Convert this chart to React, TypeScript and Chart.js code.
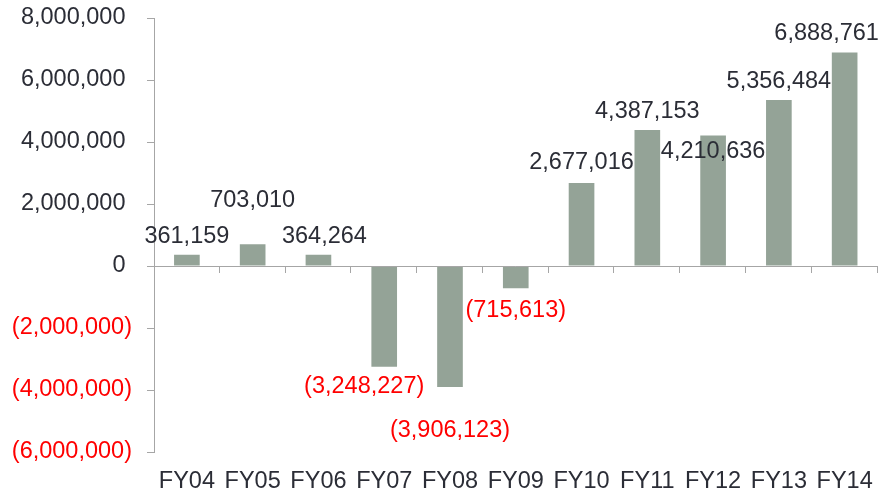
import React, { useEffect, useRef } from "react";
import { Chart, registerables } from "chart.js";

Chart.register(...registerables);

const categories = ["FY04", "FY05", "FY06", "FY07", "FY08", "FY09", "FY10", "FY11", "FY12", "FY13", "FY14"];
const values = [361159, 703010, 364264, -3248227, -3906123, -715613, 2677016, 4387153, 4210636, 5356484, 6888761];
const yMin = -6000000;
const yMax = 8000000;
const yStep = 2000000;

// manual label nudges in pixels [dx, dy] (like moved Excel data labels)
const labelNudges: [number, number][] = [
  [0, 0], [0, -26], [6, 0], [-20, 0], [0, 23], [0, 2], [0, -2], [0, 0], [0, 34], [0, 0], [-18, -1],
];

const FONT = "'Liberation Sans', Arial, sans-serif";
const DARK = "#2b2d36";
const RED = "#ff0000";
const AXIS = "#a6a6a6";
const BAR = "#94a397";

const fmt = (n: number) => Math.round(n).toLocaleString("en-US");
const fmtSigned = (n: number) => (n < 0 ? `(${fmt(-n)})` : fmt(n));

const axisPlugin = {
  id: "zeroAxis",
  afterDatasetsDraw(chart: any) {
    const { ctx, chartArea, scales } = chart;
    const y0 = scales.y.getPixelForValue(0);
    ctx.save();
    ctx.strokeStyle = AXIS;
    ctx.lineWidth = 1;
    ctx.beginPath();
    ctx.moveTo(chartArea.left, Math.round(y0) + 0.5);
    ctx.lineTo(chartArea.right, Math.round(y0) + 0.5);
    const n = categories.length;
    for (let i = 1; i <= n; i++) {
      const x = chartArea.left + ((chartArea.right - chartArea.left) * i) / n;
      const xp = Math.round(x) - 0.5;
      ctx.moveTo(xp, Math.round(y0));
      ctx.lineTo(xp, Math.round(y0) + 7);
    }
    ctx.stroke();
    ctx.restore();
  },
};

const labelPlugin = {
  id: "valueLabels",
  afterDatasetsDraw(chart: any) {
    const { ctx } = chart;
    const meta = chart.getDatasetMeta(0);
    ctx.save();
    ctx.font = `23.5px ${FONT}`;
    ctx.textAlign = "center";
    ctx.textBaseline = "middle";
    meta.data.forEach((el: any, i: number) => {
      const v = values[i];
      const [dx, dy] = labelNudges[i];
      const y = v >= 0 ? el.y - 18 + dy : el.y + 20 + dy;
      ctx.fillStyle = v < 0 ? RED : DARK;
      ctx.fillText(fmtSigned(v), el.x + dx, y);
    });
    ctx.restore();
  },
};

export default function App() {
  const ref = useRef<HTMLCanvasElement>(null);
  useEffect(() => {
    if (!ref.current) return;
    const chart = new Chart(ref.current, {
      type: "bar",
      data: {
        labels: categories,
        datasets: [
          {
            data: values,
            backgroundColor: BAR,
            borderWidth: 0,
            barPercentage: 0.78,
            categoryPercentage: 0.5,
          },
        ],
      },
      options: {
        responsive: false,
        animation: false,
        events: [],
        layout: { padding: { top: 18, right: 6, left: 0, bottom: 0 } },
        plugins: { legend: { display: false }, tooltip: { enabled: false } },
        scales: {
          x: {
            grid: { display: false, drawTicks: false },
            border: { display: false },
            ticks: {
              color: DARK,
              font: { family: FONT, size: 23.5 },
              padding: 15,
              maxRotation: 0,
              autoSkip: false,
            },
            afterFit: (s: any) => {
              s.height = 43;
            },
          },
          y: {
            min: yMin,
            max: yMax,
            grid: { display: true, drawOnChartArea: false, drawTicks: true, tickLength: 7, color: AXIS },
            border: { display: true, color: AXIS },
            ticks: {
              stepSize: yStep,
              padding: 15,
              font: { family: FONT, size: 23.5, lineHeight: 0.2 },
              color: (c: any) => (c.tick && c.tick.value < 0 ? RED : DARK),
              callback: (v: any) => (v < 0 ? `(${fmt(-v)})` : `${fmt(v)} `),
            },
            afterFit: (s: any) => {
              s.width = 154;
            },
          },
        },
      },
      plugins: [axisPlugin, labelPlugin],
    });
    return () => chart.destroy();
  }, []);
  return (
    <div style={{ position: "fixed", left: 0, top: 0, width: 888, height: 495, background: "#fff" }}>
      <canvas ref={ref} width={888} height={495} style={{ display: "block" }} />
    </div>
  );
}
